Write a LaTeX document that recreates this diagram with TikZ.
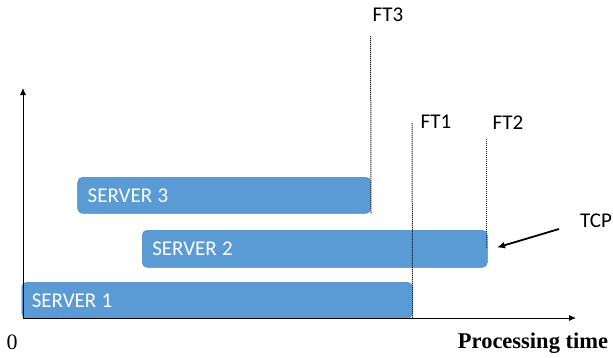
\documentclass[tikz,border=0pt]{standalone}
\usepackage{fontspec}
\setmainfont{Liberation Serif}
\newfontfamily\labelfont{Carlito}
\usetikzlibrary{arrows.meta}
\definecolor{barblue}{HTML}{5B9BD5}
\definecolor{baredge}{HTML}{4A86C0}
\begin{document}
\begin{tikzpicture}[x=1pt,y=-1pt,
  srv/.style={draw=baredge,line width=0.6pt,fill=barblue,rounded corners=5pt,
    anchor=north west,inner xsep=10pt,inner ysep=0pt,align=left,
    text=white,font=\labelfont\fontsize{21}{21}\selectfont},
  ftline/.style={line width=1pt,black!85,dash pattern=on 1.3pt off 0.7pt},
  ftlabel/.style={font=\labelfont\fontsize{21}{21}\selectfont},
  axis/.style={line width=0.9pt,-{Latex[length=7pt,width=6pt]}}]
\useasboundingbox (0,0) rectangle (613,357);
% time bars of the servers
\node[srv,minimum width=390.5pt,minimum height=36pt,text width=370.5pt] (s1) at (21.5,282) {SERVER\hspace{-0.08em} 1};
\node[srv,minimum width=345pt,minimum height=37pt,text width=325pt] (s2) at (142,230) {SERVER\hspace{-0.08em} 2};
\node[srv,minimum width=293pt,minimum height=36pt,text width=273pt] (s3) at (77.4,177) {SERVER\hspace{-0.08em} 3};
% axes
\coordinate (o) at (23,318);
\coordinate (ytip) at (23,88);
\coordinate (xtip) at (576,318);
\draw[axis] (o) -- (ytip);
\draw[axis] (o) -- (xtip);
\node[font=\fontsize{22}{22}\selectfont] (zero) at (12,342) {0};
\node[font=\bfseries\fontsize{22.5}{22.5}\selectfont] (ptime) at (533,343) {Processing time};
% finishing times
\coordinate (ft3top) at (370.6,36);
\coordinate (ft1top) at (412,123);
\coordinate (ft2top) at (486,139);
\coordinate (ft2bot) at (486,248);
\draw[ftline] (ft3top) -- (s3.south east);
\draw[ftline] (ft1top) -- (s1.south east);
\draw[ftline] (ft2top) -- (ft2bot);
\node[ftlabel] (ft3) at (388,15) {FT3};
\node[ftlabel] (ft1) at (436,122) {FT1};
\node[ftlabel] (ft2) at (508,123) {FT2};
% critical path marker
\node[ftlabel] (tcp) at (596,221) {TCP};
\coordinate (tcpfrom) at (559,229);
\coordinate (tcpto) at (497,247.5);
\draw[line width=1.8pt,-{Latex[length=8pt,width=7pt]}] (tcpfrom) -- (tcpto);
\end{tikzpicture}
\end{document}
